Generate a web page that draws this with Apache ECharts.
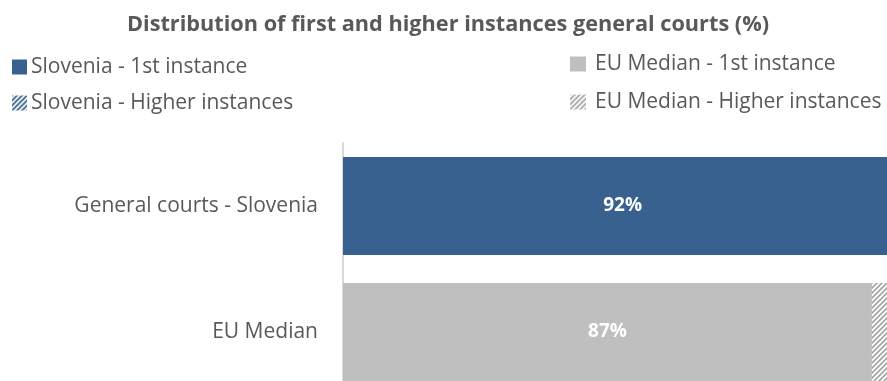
<!DOCTYPE html>
<html><head><meta charset="utf-8">
<script src="https://cdn.jsdelivr.net/npm/echarts@6/dist/echarts.min.js"></script>
<style>html,body{margin:0;padding:0;background:#fff;overflow:hidden;width:887px;height:381px}#c{width:1000px;height:450px}</style>
</head><body><div id="c"></div>
<script>
const categories = ['General courts - Slovenia', 'EU Median'];
const sloFirst = [92, null];
const sloHigher = [8, null];
const euFirst = [null, 87];
const euHigher = [null, 13];
const seriesNames = ['Slovenia - 1st instance', 'Slovenia - Higher instances', 'EU Median - 1st instance', 'EU Median - Higher instances'];

function stripes(bg, fg, dir) {
  const c = document.createElement('canvas');
  c.width = 5; c.height = 5;
  const g = c.getContext('2d');
  g.fillStyle = bg; g.fillRect(0, 0, 5, 5);
  g.strokeStyle = fg; g.lineWidth = 1.8;
  g.beginPath();
  if (dir > 0) {
    g.moveTo(-1, 6); g.lineTo(6, -1);
    g.moveTo(-4, 4); g.lineTo(4, -4);
    g.moveTo(1, 9); g.lineTo(9, 1);
  } else {
    g.moveTo(-1, -1); g.lineTo(6, 6);
    g.moveTo(-4, 1); g.lineTo(4, 9);
    g.moveTo(1, -4); g.lineTo(9, 4);
  }
  g.stroke();
  return { image: c, repeat: 'repeat' };
}

const blue = '#386190';
const grey = '#bfbfbf';
const font = 'Open Sans';
const chart = echarts.init(document.getElementById('c'), null, { renderer: 'canvas' });
const labelStyle = { show: true, position: 'inside', color: '#fff', fontWeight: 'bold', fontSize: 19, fontFamily: font, formatter: '{c}%' };
chart.setOption({
  animation: false,
  title: {
    text: 'Distribution of first and higher instances general courts (%)',
    left: 443, top: 9, textAlign: 'center',
    textStyle: { fontFamily: font, fontWeight: 'bold', fontSize: 21.7, color: '#595959' }
  },
  legend: [
    { orient: 'vertical', left: 12, top: 56, padding: 0, itemGap: 14, itemWidth: 15, itemHeight: 15, icon: 'rect',
      data: [seriesNames[0], seriesNames[1]],
      textStyle: { fontFamily: font, fontSize: 21, lineHeight: 22, color: '#595959', padding: [0, 0, 0, -1] } },
    { orient: 'vertical', left: 570, top: 53, padding: 0, itemGap: 16, itemWidth: 16, itemHeight: 15, icon: 'rect',
      data: [seriesNames[2], seriesNames[3]],
      textStyle: { fontFamily: font, fontSize: 21, lineHeight: 22, color: '#595959', padding: [0, 0, 0, 4] } }
  ],
  grid: { left: 343, top: 143, width: 608, height: 252, containLabel: false },
  xAxis: { type: 'value', min: 0, max: 100, show: false },
  yAxis: {
    type: 'category', data: categories, inverse: true,
    axisLine: { show: true, lineStyle: { color: '#d9d9d9', width: 2 } },
    axisTick: { show: false },
    axisLabel: { fontFamily: font, fontSize: 21, color: '#595959', margin: 25 }
  },
  series: [
    { name: seriesNames[0], type: 'bar', stack: 't', data: sloFirst, barWidth: 98, itemStyle: { color: blue }, label: labelStyle },
    { name: seriesNames[1], type: 'bar', stack: 't', data: sloHigher, barWidth: 98, itemStyle: { color: stripes('#ffffff', blue, 1) } },
    { name: seriesNames[2], type: 'bar', stack: 't', data: euFirst, barWidth: 98, itemStyle: { color: grey }, label: labelStyle },
    { name: seriesNames[3], type: 'bar', stack: 't', data: euHigher, barWidth: 98, itemStyle: { color: stripes('#ffffff', '#a6a6a6', 1) } }
  ]
});
</script></body></html>
